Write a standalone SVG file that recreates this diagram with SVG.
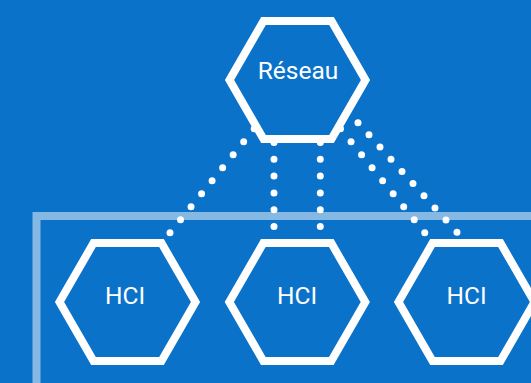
<svg xmlns="http://www.w3.org/2000/svg" width="531" height="383" viewBox="0 0 531 383">
<style>
.hex{fill:#0a72c9;stroke:#fff;stroke-width:8;stroke-linejoin:miter}
.lbl{font-family:Roboto,"Liberation Sans",sans-serif;font-size:24.5px;font-weight:400;fill:#fff;text-anchor:middle}
.dot{stroke:#fff;stroke-width:7;stroke-linecap:round;fill:none}
</style>
<rect width="531" height="383" fill="#0a72c9"/>
<path d="M36.5,395 V216 H545" fill="none" stroke="#fff" stroke-opacity="0.5" stroke-width="8"/>
<g id="connectors">
<line class="dot" stroke-dasharray="0 16.73" x1="254.2" y1="128.7" x2="159.5" y2="245.7"/>
<line class="dot" stroke-dasharray="0 16.83" x1="274" y1="125.6" x2="274" y2="243.4"/>
<line class="dot" stroke-dasharray="0 16.83" x1="320.3" y1="125.6" x2="320.3" y2="243.4"/>
<line class="dot" stroke-dasharray="0 16.73" x1="340.5" y1="128.7" x2="435.3" y2="245.7"/>
<line class="dot" stroke-dasharray="0 16.41" x1="347" y1="110.5" x2="468" y2="244.5"/>
</g>
<g id="reseau">
<polygon class="hex" points="229.5,80 263.5,21.1 331.5,21.1 365.5,80 331.5,138.9 263.5,138.9"/>
<text class="lbl" x="298" y="79.3">Réseau</text>
</g>
<g id="hci1">
<polygon class="hex" points="59.5,302 93.5,243.1 161.5,243.1 195.5,302 161.5,360.9 93.5,360.9"/>
<text class="lbl" x="125" y="304">HCI</text>
</g>
<g id="hci2">
<polygon class="hex" points="229.3,302 263.3,243.1 331.3,243.1 365.3,302 331.3,360.9 263.3,360.9"/>
<text class="lbl" x="297" y="304">HCI</text>
</g>
<g id="hci3">
<polygon class="hex" points="398.5,302 432.5,243.1 500.5,243.1 534.5,302 500.5,360.9 432.5,360.9"/>
<text class="lbl" x="466.5" y="304">HCI</text>
</g>
</svg>
